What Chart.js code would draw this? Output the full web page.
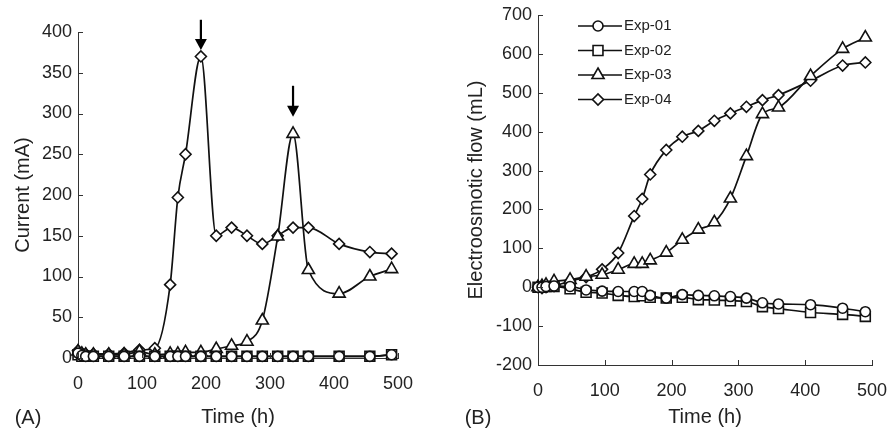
<!DOCTYPE html>
<html>
<head>
<meta charset="utf-8">
<script src="https://cdn.jsdelivr.net/npm/chart.js@4.4.1/dist/chart.umd.min.js"></script>
<style>
  html, body { margin: 0; padding: 0; background: #fff; }
  #wrap { position: relative; width: 891px; height: 433px; }
  #chartA { position: absolute; left: 0; top: 0; }
  #chartB { position: absolute; left: 440px; top: 0; }
</style>
</head>
<body>
<div id="wrap">
  <canvas id="chartA" width="440" height="433"></canvas>
  <canvas id="chartB" width="451" height="433"></canvas>
</div>
<script>
// sampling times (h), shared by every series
const hours = [0, 6, 12, 24, 48, 72, 96, 120, 144, 156, 168, 192, 216, 240, 264, 288, 312, 336, 360, 408, 456, 490];

const seriesNames = ["Exp-01", "Exp-02", "Exp-03", "Exp-04"];

// (A) current, mA
const currentExp01 = [6, 3, 2, 2, 2, 2, 2, 2, 2, 2, 2, 2, 2, 2, 2, 2, 2, 2, 2, 2, 2, 4];
const currentExp02 = [4, 2, 2, 2, 2, 2, 2, 2, 2, 2, 2, 2, 2, 2, 2, 2, 2, 2, 2, 2, 2, 4];
const currentExp03 = [8, 5, 4, 4, 4, 4, 8, 4, 5, 5, 7, 7, 11, 15, 20, 46, 149, 275, 108, 79, 100, 109];
const currentExp04 = [9, 6, 5, 5, 5, 6, 10, 12, 90, 197, 250, 370, 150, 160, 150, 140, 150, 160, 160, 140, 130, 128];

// (B) electroosmotic flow, mL
const flowExp01 = [0, 0, 2, 3, 2, -7, -10, -11, -11, -11, -21, -28, -19, -21, -22, -24, -28, -40, -43, -45, -54, -63];
const flowExp02 = [0, 0, 2, 2, -4, -13, -15, -21, -24, -22, -26, -28, -26, -32, -33, -35, -37, -50, -55, -65, -70, -75];
const flowExp03 = [0, 3, 6, 15, 19, 27, 32, 45, 60, 60, 69, 89, 122, 148, 167, 228, 337, 445, 462, 543, 613, 642];
const flowExp04 = [0, -2, 0, 3, 16, 26, 46, 88, 183, 227, 290, 353, 387, 402, 428, 447, 464, 481, 494, 531, 570, 578];

// peaks marked with arrows in (A): [time, arrow top, arrow tip]
const arrowMarks = [[192, 415, 378], [336, 334, 296]];

const timeTicks = [0, 100, 200, 300, 400, 500];

Chart.defaults.font.family = "'Liberation Sans', Arial, sans-serif";
Chart.defaults.color = "#222";

const markers = [
  { pointStyle: "circle", radius: 5 },
  { pointStyle: "rect", radius: 7 },
  { pointStyle: "triangle", radius: 7 },
  { pointStyle: "rectRot", radius: 5.5 },
];

function makeSets(lists) {
  return lists.map((vals, i) => ({
    label: seriesNames[i],
    data: hours.map((h, k) => ({ x: h, y: vals[k] })),
    borderColor: "#111",
    borderWidth: 1.7,
    backgroundColor: "#fff",
    pointStyle: markers[i].pointStyle,
    pointRadius: markers[i].radius,
    pointBorderWidth: 1.6,
    pointBorderColor: "#111",
    pointBackgroundColor: "#fff",
    cubicInterpolationMode: "monotone",
    clip: false,
  }));
}

// tick marks pointing into the plot, like the original
const insideTicks = {
  id: "insideTicks",
  afterDatasetsDraw(chart) {
    const ctx = chart.ctx;
    const { x, y } = chart.scales;
    ctx.save();
    ctx.strokeStyle = "#333";
    ctx.lineWidth = 1;
    y.ticks.forEach((t) => {
      const py = Math.round(y.getPixelForValue(t.value)) + 0.5;
      ctx.beginPath();
      ctx.moveTo(x.left, py);
      ctx.lineTo(x.left + 5, py);
      ctx.stroke();
    });
    x.ticks.forEach((t) => {
      const px = Math.round(x.getPixelForValue(t.value)) + 0.5;
      ctx.beginPath();
      ctx.moveTo(px, y.bottom);
      ctx.lineTo(px, y.bottom - 5);
      ctx.stroke();
    });
    ctx.restore();
  },
};

const panelTag = {
  id: "panelTag",
  afterDraw(chart, args, opts) {
    const ctx = chart.ctx;
    ctx.save();
    ctx.font = "20px 'Liberation Sans', Arial, sans-serif";
    ctx.fillStyle = "#222";
    ctx.textAlign = "center";
    ctx.textBaseline = "middle";
    ctx.fillText(opts.text, opts.x, opts.y);
    ctx.restore();
  },
};

const peakArrows = {
  id: "peakArrows",
  afterDraw(chart) {
    const ctx = chart.ctx;
    const { x, y } = chart.scales;
    ctx.save();
    ctx.strokeStyle = "#000";
    ctx.fillStyle = "#000";
    ctx.lineWidth = 2.2;
    arrowMarks.forEach(([t, top, tip]) => {
      const px = x.getPixelForValue(t);
      const y0 = y.getPixelForValue(top);
      const y1 = y.getPixelForValue(tip);
      ctx.beginPath();
      ctx.moveTo(px, y0);
      ctx.lineTo(px, y1 - 8);
      ctx.stroke();
      ctx.beginPath();
      ctx.moveTo(px - 6, y1 - 11);
      ctx.lineTo(px + 6, y1 - 11);
      ctx.lineTo(px, y1);
      ctx.closePath();
      ctx.fill();
    });
    ctx.restore();
  },
};

const lineLegend = {
  id: "lineLegend",
  afterDraw(chart) {
    const ctx = chart.ctx;
    ctx.save();
    chart.data.datasets.forEach((ds, i) => {
      const ly = 26 + i * 24.5;
      ctx.strokeStyle = "#111";
      ctx.lineWidth = 1.7;
      ctx.beginPath();
      ctx.moveTo(138, ly);
      ctx.lineTo(182, ly);
      ctx.stroke();
      ctx.fillStyle = "#fff";
      ctx.lineWidth = 1.6;
      Chart.helpers.drawPoint(ctx, {
        pointStyle: ds.pointStyle,
        radius: ds.pointRadius,
        borderWidth: 1.6,
      }, 158, ly);
      ctx.fillStyle = "#222";
      ctx.font = "15px 'Liberation Sans', Arial, sans-serif";
      ctx.textAlign = "left";
      ctx.textBaseline = "middle";
      ctx.fillText(ds.label, 184, ly);
    });
    ctx.restore();
  },
};

function makeOptions(cfg) {
  return {
    responsive: false,
    animation: false,
    layout: { padding: cfg.padding },
    plugins: {
      legend: { display: false },
      tooltip: { enabled: false },
      panelTag: cfg.tag,
    },
    scales: {
      x: {
        type: "linear",
        min: 0,
        max: 500,
        afterBuildTicks: (s) => { s.ticks = timeTicks.map((v) => ({ value: v })); },
        afterFit: (s) => { s.height = cfg.xHeight; s.paddingLeft = 0; s.paddingRight = 0; },
        grid: { display: false, drawTicks: false },
        border: { display: true, color: "#333", width: 1 },
        ticks: { padding: 15, font: { size: 18 }, color: "#222" },
        title: { display: true, text: "Time (h)", font: { size: 20 }, color: "#222", padding: { top: 0, bottom: 4 } },
      },
      y: {
        min: cfg.yMin,
        max: cfg.yMax,
        ticks: { stepSize: cfg.yStep, padding: 6, font: { size: 18 }, color: "#222" },
        afterFit: (s) => { s.width = cfg.yWidth; s.paddingTop = 0; s.paddingBottom = 0; },
        grid: { display: false, drawTicks: false },
        border: { display: true, color: "#333", width: 1 },
        title: { display: true, text: cfg.yTitle, font: { size: 20 }, color: "#222", padding: { top: cfg.yTitlePad, bottom: 0 } },
      },
    },
  };
}

new Chart(document.getElementById("chartA"), {
  type: "line",
  data: { datasets: makeSets([currentExp01, currentExp02, currentExp03, currentExp04]) },
  options: makeOptions({
    padding: { top: 32, right: 42, left: 0, bottom: 0 },
    xHeight: 75,
    yWidth: 78,
    yMin: 0, yMax: 400, yStep: 50,
    yTitle: "Current (mA)",
    yTitlePad: 11,
    tag: { text: "(A)", x: 28, y: 418 },
  }),
  plugins: [insideTicks, panelTag, peakArrows],
});

new Chart(document.getElementById("chartB"), {
  type: "line",
  data: { datasets: makeSets([flowExp01, flowExp02, flowExp03, flowExp04]) },
  options: makeOptions({
    padding: { top: 15, right: 19, left: 0, bottom: 0 },
    xHeight: 68,
    yWidth: 98,
    yMin: -200, yMax: 700, yStep: 100,
    yTitle: "Electroosmotic flow (mL)",
    yTitlePad: 24,
    tag: { text: "(B)", x: 38, y: 418 },
  }),
  plugins: [insideTicks, panelTag, lineLegend],
});
</script>
</body>
</html>
